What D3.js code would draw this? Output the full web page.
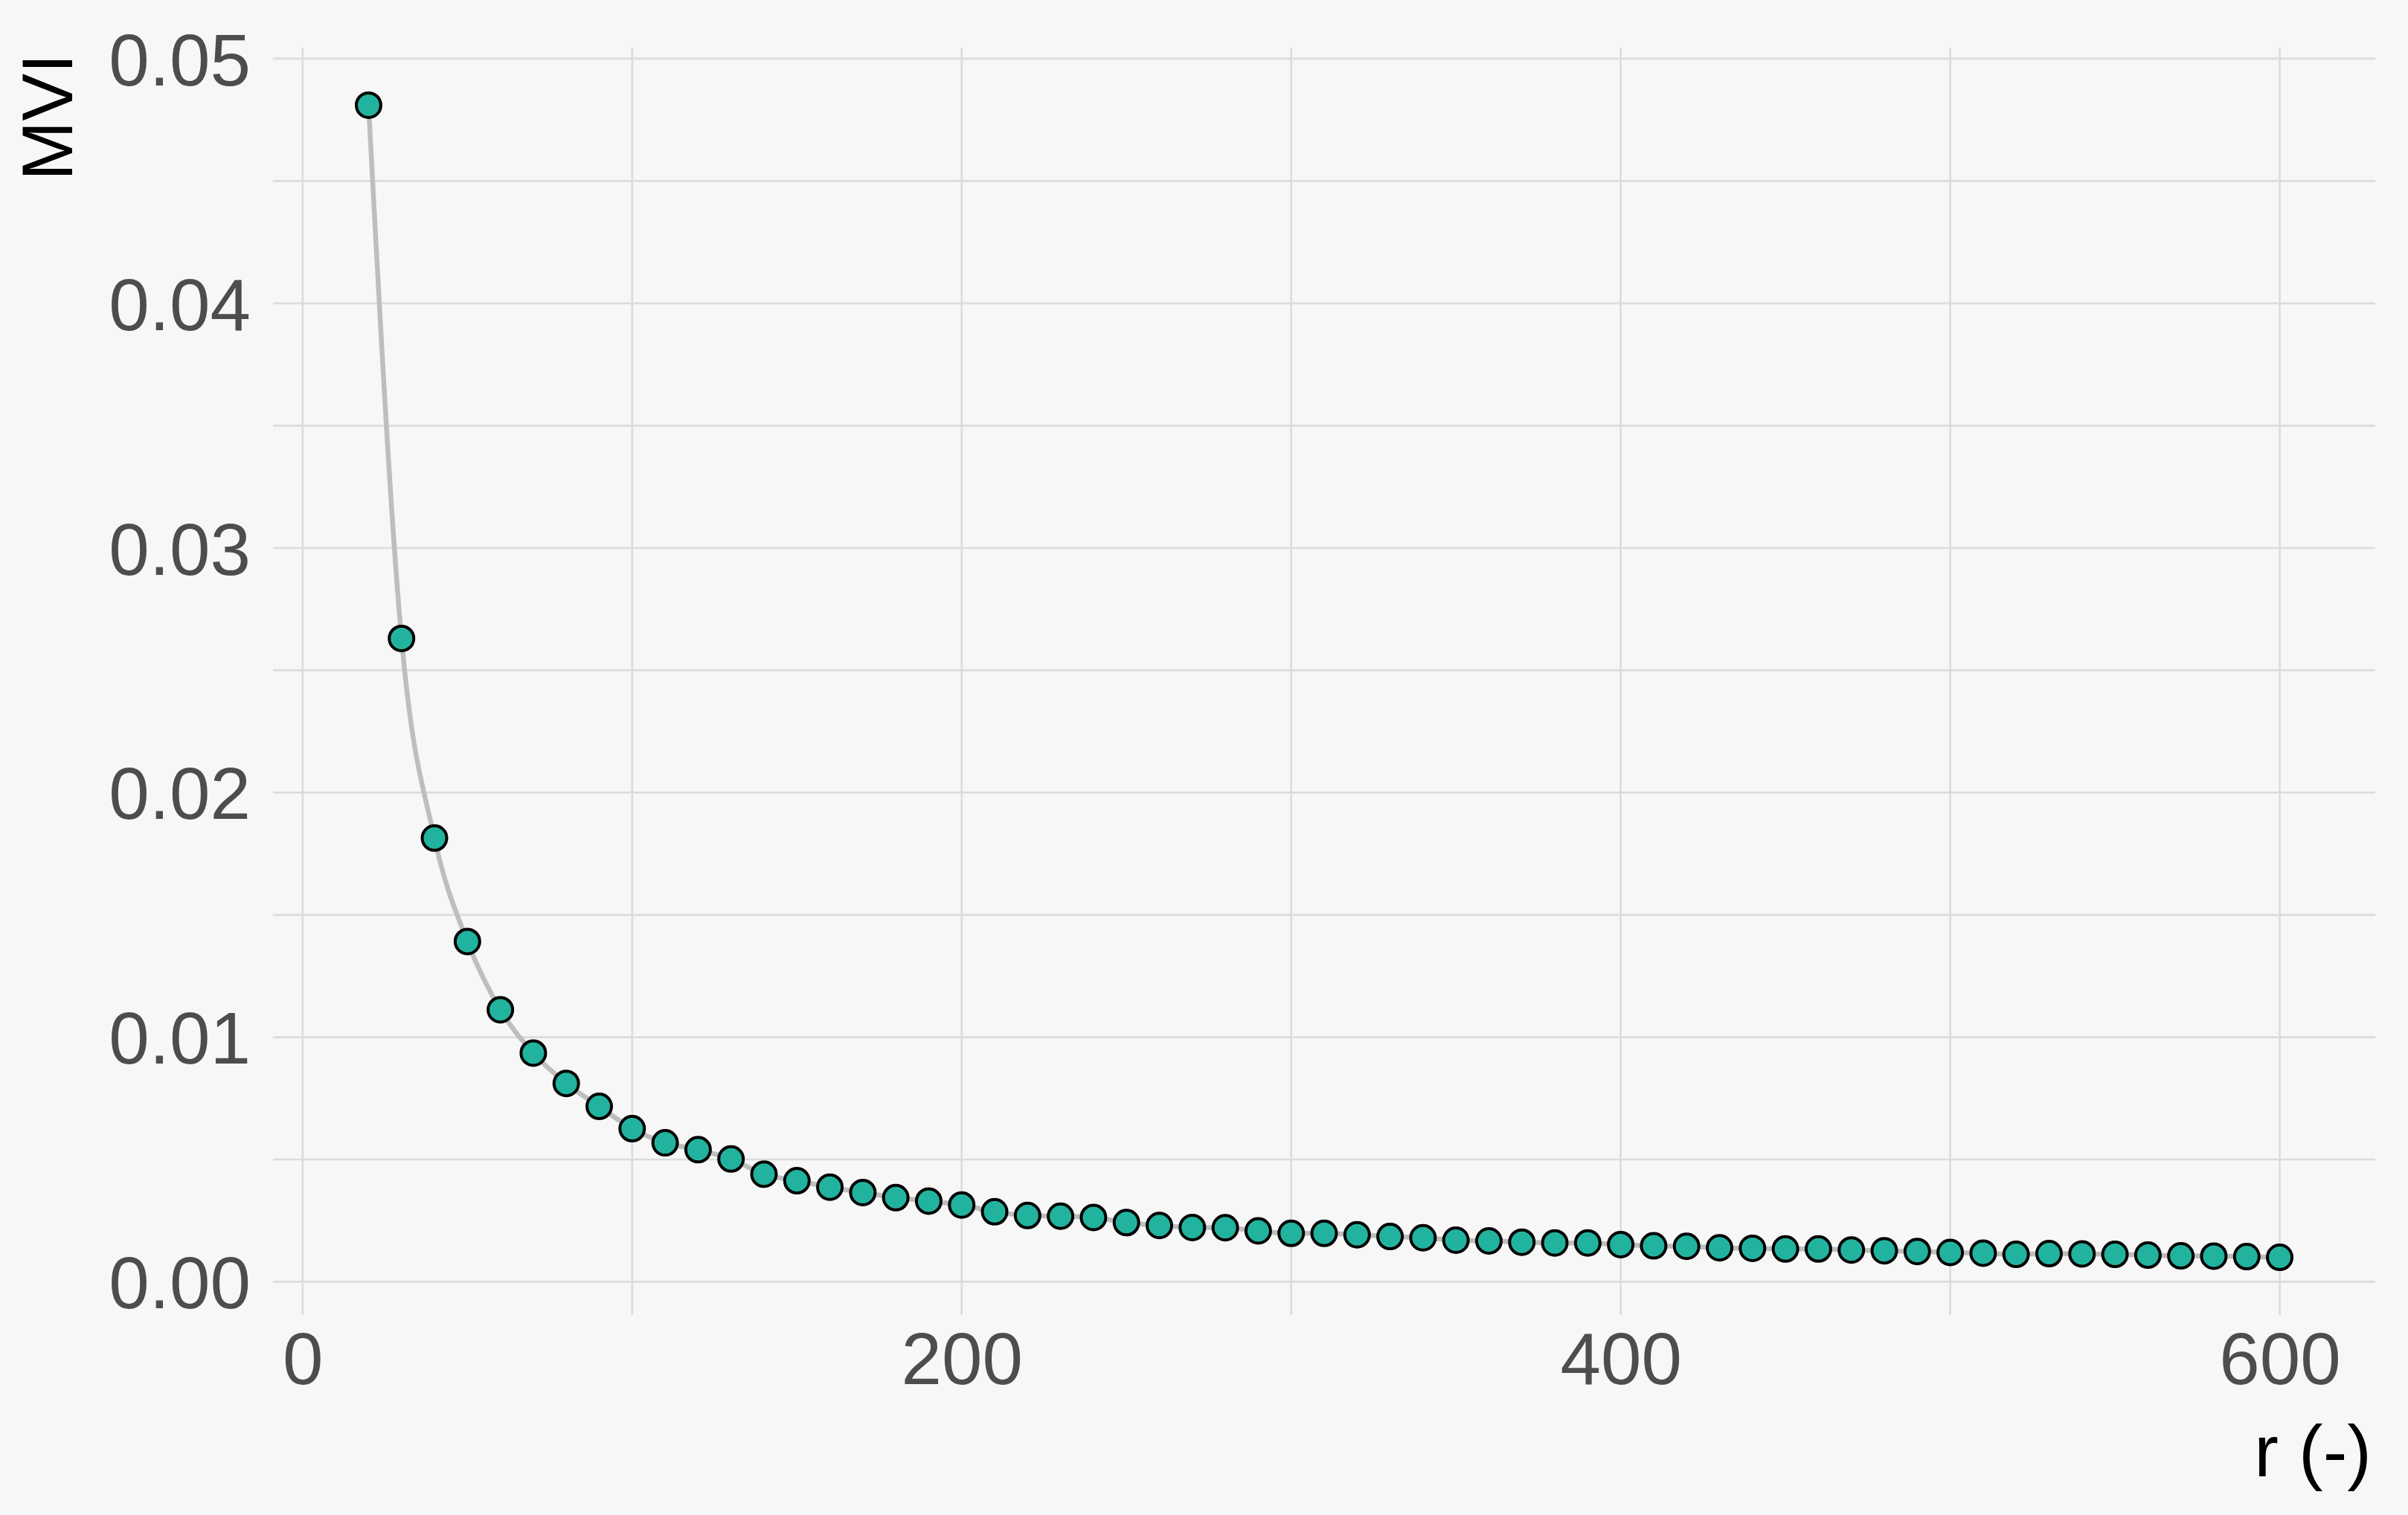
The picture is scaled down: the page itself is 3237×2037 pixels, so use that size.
<!DOCTYPE html>
<html>
<head>
<meta charset="utf-8">
<script src="https://cdn.jsdelivr.net/npm/d3@7"></script>
<style>
  html, body { margin: 0; padding: 0; background: #f7f7f7; }
  svg { display: block; }
  text { font-family: "Liberation Sans", Arial, Helvetica, sans-serif; }
</style>
</head>
<body>
<svg id="chart" width="3237" height="2037"></svg>
<script>
// ---- data ----
const rValues = [20,30,40,50,60,70,80,90,100,110,120,130,140,150,160,170,180,190,200,
  210,220,230,240,250,260,270,280,290,300,310,320,330,340,350,360,370,380,390,400,
  410,420,430,440,450,460,470,480,490,500,510,520,530,540,550,560,570,580,590,600];
const mviValues = [0.0481,0.0263,0.01814,0.01391,0.01112,0.00935,0.00811,0.00717,0.00626,0.00568,
  0.0054,0.00502,0.0044,0.00413,0.00387,0.00365,0.00344,0.0033,0.00314,
  0.00286,0.00271,0.00268,0.00263,0.00242,0.0023,0.00222,0.00221,0.00208,0.00198,
  0.00198,0.00192,0.00185,0.0018,0.0017,0.00167,0.00162,0.00159,0.00159,0.00152,
  0.00147,0.00145,0.00139,0.00137,0.00134,0.00134,0.0013,0.00127,0.00124,0.0012,
  0.00117,0.00112,0.00115,0.00114,0.00112,0.00109,0.00106,0.00105,0.00103,0.001];
const xMajorTicks = [0, 200, 400, 600];
const xMinorTicks = [100, 300, 500];
const yMajorTicks = [0, 0.01, 0.02, 0.03, 0.04, 0.05];
const yMinorTicks = [0.005, 0.015, 0.025, 0.035, 0.045];
const xTitle = "r (-)";
const yTitle = "MVI";

const data = rValues.map((r, i) => ({ r: r, v: mviValues[i] }));

// ---- layout ----
const panel = { left: 367, right: 3193, top: 64, bottom: 1768 };
const svg = d3.select("#chart");

svg.append("rect").attr("x", 0).attr("y", 0).attr("width", 3237).attr("height", 2037).attr("fill", "#f7f7f7");

// ggplot-like 5% expansion
const xr = d3.extent(rValues), yr = d3.extent(mviValues);
const xPad = (xr[1] - xr[0]) * 0.05, yPad = (yr[1] - yr[0]) * 0.05;
const x = d3.scaleLinear().domain([xr[0] - xPad, xr[1] + xPad]).range([panel.left, panel.right]);
const y = d3.scaleLinear().domain([yr[0] - yPad, yr[1] + yPad]).range([panel.bottom, panel.top]);

const gridColor = "#dcdcdc";
const gridW = 2.7;

// gridlines
const grid = svg.append("g");
grid.selectAll("line.hy").data(yMajorTicks.concat(yMinorTicks)).enter().append("line")
  .attr("x1", panel.left).attr("x2", panel.right)
  .attr("y1", d => y(d)).attr("y2", d => y(d))
  .attr("stroke", gridColor).attr("stroke-width", gridW);
grid.selectAll("line.vx").data(xMajorTicks.concat(xMinorTicks)).enter().append("line")
  .attr("y1", panel.top).attr("y2", panel.bottom)
  .attr("x1", d => x(d)).attr("x2", d => x(d))
  .attr("stroke", gridColor).attr("stroke-width", gridW);

// axes (labels only)
const fontSize = 98;
const xAxis = d3.axisBottom(x).tickValues(xMajorTicks).tickSize(0).tickPadding(0).tickFormat(d3.format("d"));
const gx = svg.append("g").attr("transform", `translate(0,${panel.bottom})`).call(xAxis);
gx.select(".domain").remove();
gx.selectAll("text").attr("font-size", fontSize).attr("fill", "#4d4d4d")
  .attr("y", 93).attr("dy", 0)
  .style("font-family", '"Liberation Sans", Arial, sans-serif');

const yAxis = d3.axisLeft(y).tickValues(yMajorTicks).tickSize(0).tickPadding(0).tickFormat(d3.format(".2f"));
const gy = svg.append("g").attr("transform", `translate(${panel.left},0)`).call(yAxis);
gy.select(".domain").remove();
gy.selectAll("text").attr("font-size", fontSize).attr("fill", "#4d4d4d")
  .attr("x", -30).attr("dy", "0.36em").attr("text-anchor", "end")
  .style("font-family", '"Liberation Sans", Arial, sans-serif');

// axis titles
svg.append("text").text(xTitle)
  .attr("x", 3188).attr("y", 1985).attr("text-anchor", "end")
  .attr("font-size", fontSize).attr("fill", "#000");
svg.append("text").text(yTitle)
  .attr("transform", "translate(97,72) rotate(-90)")
  .attr("text-anchor", "end")
  .attr("font-size", 96).attr("fill", "#000");

// line
const line = d3.line().x(d => x(d.r)).y(d => y(d.v)).curve(d3.curveMonotoneX);
svg.append("path").datum(data)
  .attr("d", line).attr("fill", "none")
  .attr("stroke", "#bebebe").attr("stroke-width", 6.5);

// points
svg.append("g").selectAll("circle").data(data).enter().append("circle")
  .attr("cx", d => x(d.r)).attr("cy", d => y(d.v))
  .attr("r", 16.5)
  .attr("fill", "#22b39f").attr("stroke", "#000").attr("stroke-width", 4);
</script>
</body>
</html>
